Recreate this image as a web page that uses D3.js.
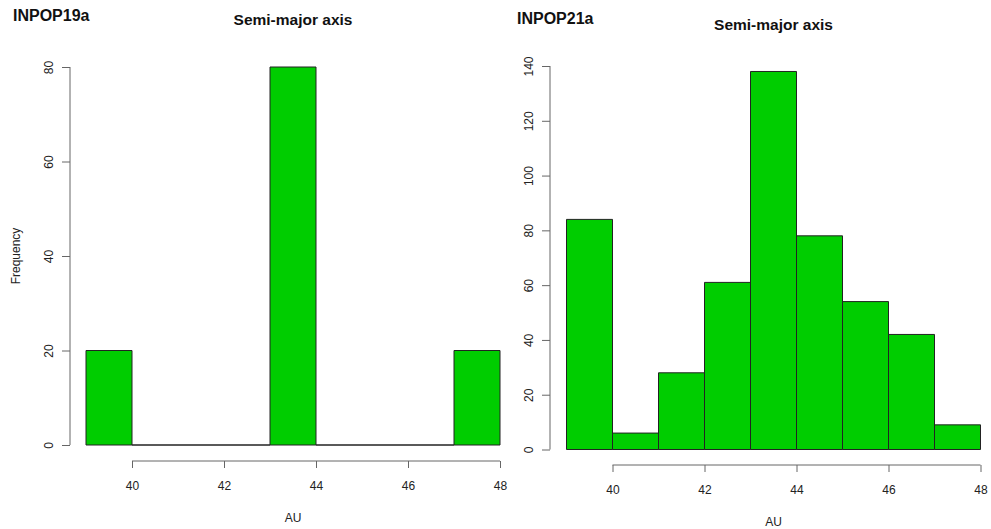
<!DOCTYPE html>
<html>
<head>
<meta charset="utf-8">
<script src="https://cdn.jsdelivr.net/npm/d3@7"></script>
<style>
  body { margin: 0; background: #fff; }
  svg { font-family: "Liberation Sans", Arial, sans-serif; }
  .axis path, .axis line { stroke: #666; }
  .axis text { fill: #222; font-size: 12px; }
</style>
</head>
<body>
<div id="chart"></div>
<script>
var binEdges = [39, 40, 41, 42, 43, 44, 45, 46, 47, 48];
var counts19 = [20, 0, 0, 0, 80, 0, 0, 0, 20];
var counts21 = [84, 6, 28, 61, 138, 78, 54, 42, 9];
var xTicks = [40, 42, 44, 46, 48];
var yTicks19 = [0, 20, 40, 60, 80];
var yTicks21 = [0, 20, 40, 60, 80, 100, 120, 140];

var svg = d3.select("#chart").append("svg").attr("width", 991).attr("height", 529);

var drawPanel = function(opts) {
  var x, y, g;
  x = d3.scaleLinear().domain([39, 48]).range([opts.x0, opts.x1]);
  y = d3.scaleLinear().domain([0, opts.yMax]).range([opts.yBase, opts.yTop]);
  g = svg.append("g");

  // bars as paths so empty bins still show their outline on the baseline
  g.selectAll("path.bar").data(opts.counts).enter().append("path").attr("class", "bar")
    .attr("d", function(d, i) {
      var l = x(binEdges[i]), r = x(binEdges[i + 1]);
      return "M" + l + "," + y(0) + "V" + y(d) + "H" + r + "V" + y(0) + "Z";
    })
    .attr("fill", "#00cd00").attr("stroke", "#222").attr("stroke-width", 1);

  // y axis
  var ya = g.append("g").attr("class", "axis").attr("transform", "translate(" + opts.yAxisX + ",0)")
    .call(d3.axisLeft(y).tickValues(opts.yTicks).tickSize(8).tickPadding(0).tickSizeOuter(0));
  ya.select(".domain").attr("d", "M0," + y(opts.yTicks[0]) + "V" + y(opts.yTicks[opts.yTicks.length - 1]));
  ya.selectAll(".tick text").attr("transform", "rotate(-90)").attr("x", 0).attr("y", -17)
    .attr("dy", "0").style("text-anchor", "middle");

  // x axis
  var xa = g.append("g").attr("class", "axis").attr("transform", "translate(0," + opts.xAxisY + ")")
    .call(d3.axisBottom(x).tickValues(xTicks).tickSize(7).tickPadding(13).tickSizeOuter(0));
  xa.select(".domain").attr("d", "M" + x(40) + ",0H" + x(48));

  // titles
  g.append("text").attr("x", opts.tagX).attr("y", opts.tagY).attr("font-size", 16)
    .attr("font-weight", "bold").attr("fill", "#111").text(opts.tag);
  g.append("text").attr("x", (opts.x0 + opts.x1) / 2).attr("y", opts.titleY).attr("font-size", 15.5)
    .attr("font-weight", "bold").attr("fill", "#111").style("text-anchor", "middle").text("Semi-major axis");
  g.append("text").attr("x", (opts.x0 + opts.x1) / 2).attr("y", opts.xAxisY + 61).attr("font-size", 12)
    .attr("fill", "#222").style("text-anchor", "middle").text("AU");
  if (opts.ylab) {
    g.append("text").attr("transform", "translate(20," + ((opts.yBase + opts.yTop) / 2) + ") rotate(-90)")
      .attr("font-size", 12).attr("fill", "#222").style("text-anchor", "middle").text(opts.ylab);
  }
};

drawPanel({ counts: counts19, yMax: 80, yTicks: yTicks19, x0: 86, x1: 500, yBase: 445, yTop: 67,
  yAxisX: 70, xAxisY: 461, tag: "INPOP19a", tagX: 13, tagY: 21, titleY: 25, ylab: "Frequency" });
drawPanel({ counts: counts21, yMax: 140, yTicks: yTicks21, x0: 566.5, x1: 980.5, yBase: 449.5, yTop: 66,
  yAxisX: 550, xAxisY: 465, tag: "INPOP21a", tagX: 517, tagY: 24, titleY: 30 });
</script>
</body>
</html>
